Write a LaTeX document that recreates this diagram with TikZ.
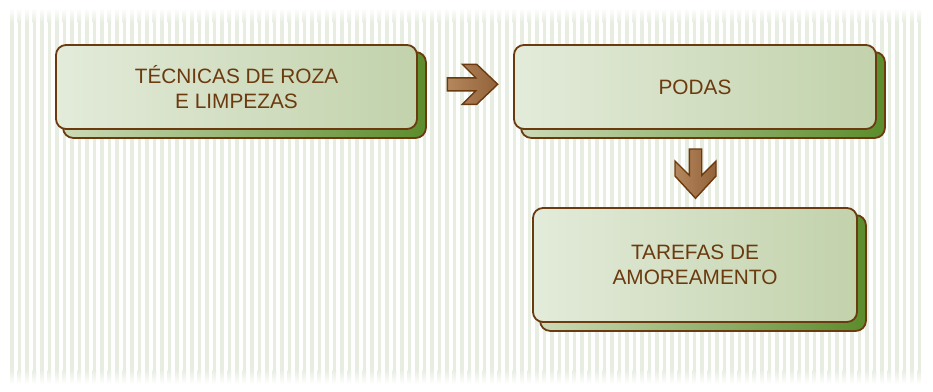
\documentclass[tikz,border=0pt]{standalone}
\usepackage{fontspec}
\setmainfont{Liberation Sans}
\pgfdeclarelayer{bg}
\pgfdeclarelayer{shadowlayer}
\pgfsetlayers{bg,shadowlayer,main}
\definecolor{txt}{HTML}{6B3A0F}
\definecolor{boxL}{HTML}{E3EBDA}
\definecolor{boxR}{HTML}{C2D2AB}
\definecolor{shL}{HTML}{CCDAB6}
\definecolor{shR}{HTML}{5C8C2C}
\definecolor{arL}{HTML}{B4875C}
\definecolor{arR}{HTML}{93623A}
\definecolor{stripe}{HTML}{E7EEE1}
\begin{document}
\begin{tikzpicture}[x=1pt,y=-1pt,
  box/.style={draw=txt, line width=1.8pt, rounded corners=10pt, left color=boxL, right color=boxR,
    text=txt, font=\fontsize{20.8}{24.5}\selectfont, align=center, inner sep=0pt},
  shadowbox/.style={draw=txt, line width=1.8pt, rounded corners=10pt, left color=shL, right color=shR},
  blockarrow/.style={draw=txt, line width=1.4pt, line join=miter, left color=arL, right color=arR}]
\useasboundingbox (0,0) rectangle (933,391);
\begin{pgfonlayer}{bg}
\fill[white] (0,0) rectangle (933,391);
\foreach \i in {0,...,121} {
  \fill[stripe] ({10+7.5*\i},22) rectangle ({13.5+7.5*\i},370);
  \shade[top color=white, bottom color=stripe] ({10+7.5*\i},8) rectangle ({13.5+7.5*\i},22);
  \shade[top color=stripe, bottom color=white] ({10+7.5*\i},370) rectangle ({13.5+7.5*\i},384);
}
\end{pgfonlayer}

\node[box, minimum width=361, minimum height=84] (a) at (236.5,87) {TÉCNICAS DE ROZA\\E LIMPEZAS};
\node[box, minimum width=362, minimum height=84] (b) at (695,87) {PODAS};
\node[box, minimum width=324, minimum height=114] (c) at (695,265) {TAREFAS DE\\AMOREAMENTO};

\begin{pgfonlayer}{shadowlayer}
\foreach \n in {a,b,c} {
  \draw[shadowbox] ([xshift=8pt,yshift=-8pt]\n.north west) rectangle ([xshift=8pt,yshift=-8pt]\n.south east);
}
\end{pgfonlayer}

\coordinate (r) at (447.3,84.3);
\draw[blockarrow] ([shift={(0,-6.5)}]r) -- ([shift={(28.5,-6.5)}]r) -- ([shift={(15,-20)}]r)
  -- ([shift={(29.4,-20)}]r) -- ([shift={(50.4,0)}]r) -- ([shift={(29.4,20)}]r)
  -- ([shift={(15,20)}]r) -- ([shift={(28.5,6.5)}]r) -- ([shift={(0,6.5)}]r) -- cycle;

\coordinate (d) at (695.5,149);
\draw[blockarrow] ([shift={(-6.2,0)}]d) -- ([shift={(6.2,0)}]d) -- ([shift={(6.2,26.3)}]d)
  -- ([shift={(20.5,12)}]d) -- ([shift={(20.5,27)}]d) -- ([shift={(0,49.3)}]d)
  -- ([shift={(-20.5,27)}]d) -- ([shift={(-20.5,12)}]d) -- ([shift={(-6.2,26.3)}]d) -- cycle;
\end{tikzpicture}
\end{document}
